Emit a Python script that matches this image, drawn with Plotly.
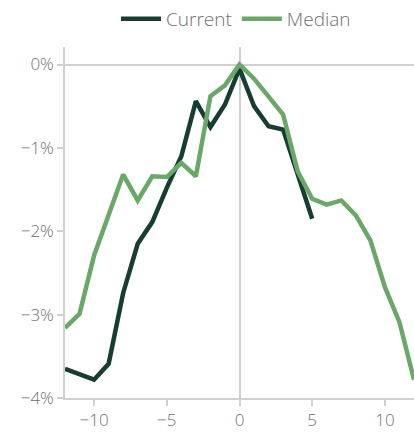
import plotly.graph_objects as go

x_current = list(range(-12, 6))
current = [-3.65, -3.72, -3.78, -3.59, -2.74, -2.15, -1.89, -1.48, -1.10, -0.44,
           -0.75, -0.48, -0.05, -0.50, -0.74, -0.78, -1.30, -1.85]
x_median = list(range(-12, 13))
median = [-3.16, -2.99, -2.29, -1.80, -1.32, -1.63, -1.34, -1.35, -1.18, -1.34,
          -0.38, -0.25, 0.0, -0.17, -0.38, -0.60, -1.28, -1.61, -1.68, -1.63,
          -1.81, -2.11, -2.67, -3.09, -3.78]
x_ticks = [-10, -5, 0, 5, 10]
x_labels = ["\u221210", "\u22125", "0", "5", "10"]
y_ticks = [0, -1, -2, -3, -4]
y_labels = ["0%", "\u22121%", "\u22122%", "\u22123%", "\u22124%"]

dark = "#173d33"
light = "#6aa867"
gray_text = "#707070"
gray_line = "#d0d0d0"

fig = go.Figure()
fig.add_trace(go.Scatter(x=x_current, y=current, mode="lines", name="Current",
                         line=dict(color=dark, width=4.5)))
fig.add_trace(go.Scatter(x=x_median, y=median, mode="lines", name="Median",
                         line=dict(color=light, width=4.5)))

fig.update_layout(
    width=414, height=433,
    margin=dict(l=65, r=0, t=45, b=35),
    paper_bgcolor="white", plot_bgcolor="white",
    font=dict(family="Open Sans", size=17, color=gray_text, weight=300),
    showlegend=True,
    legend=dict(orientation="h", x=0.49, xanchor="center", y=1.135, yref="paper",
                yanchor="top", font=dict(size=19, color=gray_text),
                itemwidth=40, tracegroupgap=0),
    xaxis=dict(range=[-12, 12], tickvals=x_ticks, ticktext=x_labels, showgrid=False,
               zeroline=True, zerolinecolor=gray_line, zerolinewidth=1.5,
               showline=True, linecolor=gray_line, linewidth=1.5,
               ticks="outside", ticklen=6, tickcolor=gray_line, tickwidth=1.5),
    yaxis=dict(range=[-4, 0.21], tickvals=y_ticks, ticktext=y_labels, showgrid=False,
               zeroline=True, zerolinecolor=gray_line, zerolinewidth=1.5,
               showline=True, linecolor=gray_line, linewidth=1.5,
               ticks="outside", ticklen=6, tickcolor=gray_line, tickwidth=1.5),
)

fig.write_html("out.html", config={"displayModeBar": False},
               post_script="document.body.style.margin='0';")
